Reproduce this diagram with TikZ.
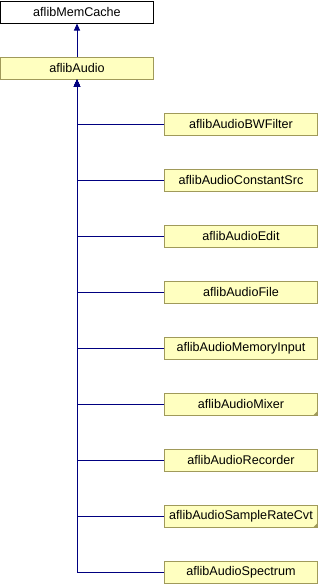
\documentclass[tikz,border=0pt]{standalone}
\usepackage{fontspec}
\setmainfont{Liberation Sans}
\usetikzlibrary{arrows.meta}
\definecolor{boxfill}{HTML}{FFFFC0}
\definecolor{boxline}{HTML}{A09A5A}
\definecolor{edgeblue}{HTML}{000080}
\begin{document}
\begin{tikzpicture}[x=1pt,y=-1pt,
  cls/.style={draw=boxline,fill=boxfill,line width=1pt,minimum width=153pt,minimum height=22pt,inner sep=0pt,font=\fontsize{12.6}{14}\selectfont},
  topcls/.style={cls,draw=black,fill=white},
  arr/.style={draw=edgeblue,line width=1pt,-{Triangle[length=7pt,width=6pt]}},
  fold/.style={fill=boxline}]
\useasboundingbox (0,0) rectangle (318,584);
\node[topcls] (mem) at (77,12) {aflibMemCache};
\node[cls] (audio) at (77,68) {aflibAudio};
\node[cls] (c1) at (241,124) {aflibAudioBWFilter};
\node[cls] (c2) at (241,180) {aflibAudioConstantSrc};
\node[cls] (c3) at (241,236) {aflibAudioEdit};
\node[cls] (c4) at (241,292) {aflibAudioFile};
\node[cls] (c5) at (241,348) {aflibAudioMemoryInput};
\node[cls] (c6) at (241,404) {aflibAudioMixer};
\node[cls] (c7) at (241,460) {aflibAudioRecorder};
\node[cls] (c8) at (241,516) {aflibAudioSampleRateCvt};
\node[cls] (c9) at (241,572) {aflibAudioSpectrum};
\fill[fold] (c6.south east) -- ++(0,-5) -- ++(-5,5) -- cycle;
\fill[fold] (c8.south east) -- ++(0,-5) -- ++(-5,5) -- cycle;
\draw[arr] (audio) -- (mem);
\foreach \c in {c1,c2,c3,c4,c5,c6,c7,c8,c9}
  \draw[arr] (\c.west) -| (audio.south);
\end{tikzpicture}
\end{document}
